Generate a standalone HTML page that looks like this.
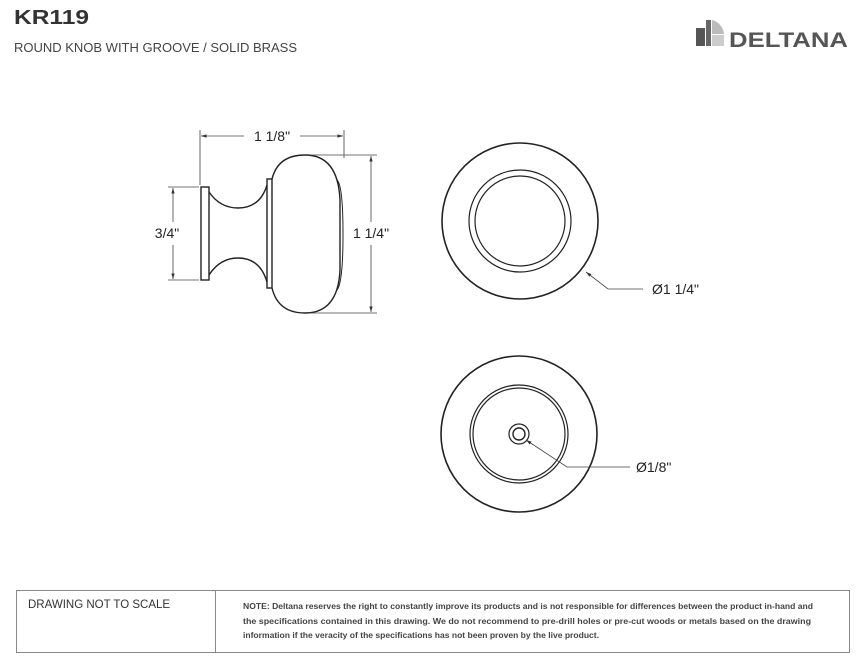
<!DOCTYPE html>
<html><head><meta charset="utf-8"><style>
html,body{margin:0;padding:0;background:#fff;}
body{width:866px;height:672px;overflow:hidden;position:relative;font-family:"Liberation Sans",Arial,sans-serif;}
</style></head><body>
<svg width="866" height="672" viewBox="0 0 866 672" xmlns="http://www.w3.org/2000/svg" style="position:absolute;left:0;top:0">
<defs>
<marker id="ar" viewBox="0 0 10 10" refX="10" refY="5" markerWidth="7" markerHeight="7" orient="auto-start-reverse"><path d="M0,2 L10,5 L0,8 z" fill="#333"/></marker>
</defs>
<text x="14" y="24" font-size="20" font-weight="bold" fill="#333" font-family="Liberation Sans, sans-serif" textLength="75" lengthAdjust="spacingAndGlyphs">KR119</text>
<text x="14" y="52" font-size="13" fill="#444" font-family="Liberation Sans, sans-serif" textLength="283">ROUND KNOB WITH GROOVE / SOLID BRASS</text>
<rect x="696" y="28" width="9" height="18" fill="#555"/>
<rect x="706" y="20" width="5" height="26" fill="#666"/>
<path d="M712,20 A16,16 0 0 1 724,34 L712,34 Z" fill="#bbb"/>
<rect x="712" y="35" width="12" height="11" fill="#ccc"/>
<text x="729" y="47" font-size="21" font-weight="bold" fill="#555" font-family="Liberation Sans, sans-serif" textLength="119" lengthAdjust="spacingAndGlyphs">DELTANA</text>

<g fill="none" stroke="#222" stroke-width="1.4">
<rect x="201" y="187" width="8" height="93"/>
<path d="M209,192 Q220,208 238,208 Q260,208 267,185"/>
<path d="M209,275 Q220,258 238,258 Q260,258 267,282"/>
<rect x="267" y="179" width="5" height="109"/>
<path d="M272,179 Q278,155 305,155 Q338,155 340,200 L340,270 Q338,313 305,313 Q278,313 272,288"/>
<path d="M337,180 Q343,185 343,234 Q343,283 337,290" stroke-width="1"/>
<circle cx="520" cy="221" r="78" stroke-width="1.6"/>
<circle cx="520" cy="221" r="51" stroke-width="1.2"/>
<circle cx="520" cy="221" r="45" stroke-width="1.2"/>
<circle cx="519" cy="434" r="78" stroke-width="1.6"/>
<circle cx="519" cy="434" r="49" stroke-width="1.2"/>
<circle cx="519" cy="434" r="46" stroke-width="1.2"/>
<circle cx="519" cy="434" r="10" stroke-width="1.2"/>
<circle cx="519" cy="434" r="6" stroke-width="1.4"/>
</g>
<g fill="none" stroke="#444" stroke-width="0.8">
<line x1="200" y1="130" x2="200" y2="185"/>
<line x1="344" y1="130" x2="344" y2="158"/>
<line x1="201" y1="136" x2="244" y2="136" marker-start="url(#ar)"/>
<line x1="300" y1="136" x2="343" y2="136" marker-end="url(#ar)"/>
<line x1="168" y1="187" x2="199" y2="187"/>
<line x1="168" y1="280" x2="199" y2="280"/>
<line x1="173" y1="188" x2="173" y2="222" marker-start="url(#ar)"/>
<line x1="173" y1="245" x2="173" y2="279" marker-end="url(#ar)"/>
<line x1="310" y1="155" x2="377" y2="155"/>
<line x1="310" y1="313" x2="377" y2="313"/>
<line x1="371" y1="156" x2="371" y2="222" marker-start="url(#ar)"/>
<line x1="371" y1="245" x2="371" y2="312" marker-end="url(#ar)"/>
<path d="M643,289 L608,289 L586,272" marker-end="url(#ar)"/>
<path d="M630,467 L567,467 L526,440" marker-end="url(#ar)"/>
</g>
<g font-family="Liberation Sans, sans-serif" font-size="14" fill="#222">
<text x="272" y="141" text-anchor="middle">1 1/8"</text>
<text x="167" y="238" text-anchor="middle">3/4"</text>
<text x="371" y="238" text-anchor="middle" style="paint-order:stroke" stroke="#fff" stroke-width="6">1 1/4"</text>
<text x="652" y="294">Ø1 1/4"</text>
<text x="636" y="472">Ø1/8"</text>
</g>
<rect x="16.5" y="590.5" width="833" height="62" fill="none" stroke="#888" stroke-width="1"/>
<line x1="215.5" y1="590" x2="215.5" y2="653" stroke="#888"/>
<text x="28" y="608" font-size="11.5" fill="#333" font-family="Liberation Sans, sans-serif">DRAWING NOT TO SCALE</text>
<g font-family="Liberation Sans, sans-serif" font-size="8" font-weight="bold" fill="#444">
<text x="243" y="609" textLength="570" lengthAdjust="spacingAndGlyphs">NOTE: Deltana reserves the right to constantly improve its products and is not responsible for differences between the product in-hand and</text>
<text x="243" y="624" textLength="568" lengthAdjust="spacingAndGlyphs">the specifications contained in this drawing. We do not recommend to pre-drill holes or pre-cut woods or metals based on the drawing</text>
<text x="243" y="638" textLength="356" lengthAdjust="spacingAndGlyphs">information if the veracity of the specifications has not been proven by the live product.</text>
</g>
</svg>
</body></html>
